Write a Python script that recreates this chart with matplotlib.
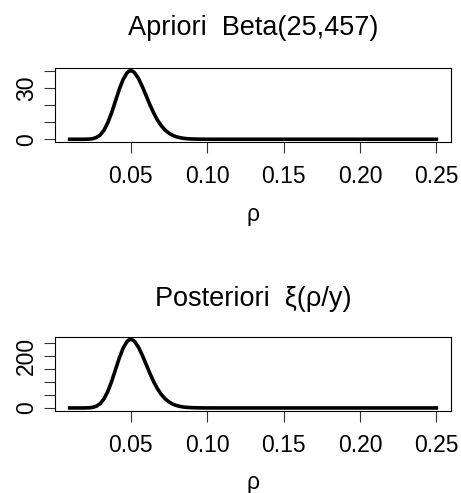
import matplotlib
matplotlib.use("Agg")
import matplotlib.pyplot as plt

plt.rcParams['font.family'] = ['Liberation Sans', 'DejaVu Sans']

# rho grid
rho = [0.010, 0.015, 0.020, 0.0225, 0.025, 0.0275, 0.030, 0.0325, 0.035, 0.0375,
       0.040, 0.0425, 0.045, 0.0475, 0.04875, 0.050, 0.05125, 0.0525, 0.055, 0.0575,
       0.060, 0.0625, 0.065, 0.0675, 0.070, 0.0725, 0.075, 0.0775, 0.080, 0.0825,
       0.085, 0.0875, 0.090, 0.095, 0.100, 0.110, 0.120, 0.150, 0.170, 0.200, 0.250]
# prior density Beta(25,457)
prior = [0.0, 0.0, 0.016, 0.086, 0.33, 1.02, 2.55, 5.36, 9.8, 15.65,
         22.5, 29.4, 35.1, 38.9, 39.9, 40.2, 39.9, 39.0, 35.7, 31.0,
         25.7, 20.3, 15.4, 11.2, 7.9, 5.37, 3.55, 2.26, 1.41, 0.85,
         0.50, 0.29, 0.16, 0.05, 0.01, 0.0, 0.0, 0.0, 0.0, 0.0, 0.0]
# posterior xi(rho/y)
posterior = [0.0, 0.0, 0.1, 0.56, 2.2, 6.7, 16.7, 35.2, 64.4, 102.8,
             147.8, 193.0, 230.5, 255.5, 262.0, 264.0, 262.0, 256.0, 234.5, 203.6,
             168.8, 133.3, 101.1, 73.6, 51.9, 35.3, 23.3, 14.8, 9.3, 5.6,
             3.3, 1.9, 1.05, 0.33, 0.07, 0.0, 0.0, 0.0, 0.0, 0.0, 0.0]

xticks = [0.05, 0.10, 0.15, 0.20, 0.25]
xticklabels = ["0.05", "0.10", "0.15", "0.20", "0.25"]
prior_yticks = [0, 10, 20, 30, 40]
prior_ylabels = ["0", "", "", "30", ""]
post_yticks = [0, 50, 100, 150, 200, 250]
post_ylabels = ["0", "", "", "", "200", ""]

W, H = 461, 493
fig = plt.figure(figsize=(W / 100, H / 100), dpi=100)

def make_ax(top_px, bot_px):
    left, right = 55, 451
    return fig.add_axes([left / W, 1 - bot_px / H, (right - left) / W, (bot_px - top_px) / H])

ax1 = make_ax(68, 142)
ax2 = make_ax(336.7, 410.7)

def style(ax, y, yt, yl, title, tpad):
    ax.plot(rho, y, color='black', lw=2.6, solid_joinstyle='round')
    lo, hi = min(rho), max(rho)
    pad = 0.04 * (hi - lo)
    ax.set_xlim(lo - pad, hi + pad)
    ymax = max(y)
    ax.set_ylim(-0.04 * ymax, 1.04 * ymax)
    ax.set_xticks(xticks)
    ax.set_xticklabels(xticklabels)
    ax.set_yticks(yt)
    ax.set_yticklabels(yl, rotation=90, va='center')
    ax.tick_params(axis='both', direction='out', length=8, width=0.8,
                   labelsize=16.5, color='#333333')
    ax.tick_params(axis='x', pad=8.5)
    ax.tick_params(axis='y', pad=4)
    for s in ax.spines.values():
        s.set_linewidth(0.8)
    ax.set_xlabel('ρ', fontsize=16.5, labelpad=10.5)
    ax.set_title(title, fontsize=19.5, pad=tpad)

style(ax1, prior, prior_yticks, prior_ylabels, 'Apriori  Beta(25,457)', 24)
style(ax2, posterior, post_yticks, post_ylabels, 'Posteriori  ξ(ρ/y)', 22)

fig.savefig('out.png', dpi=100)
